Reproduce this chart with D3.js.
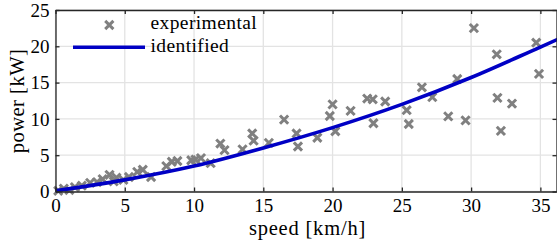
<!DOCTYPE html>
<html><head><meta charset="utf-8">
<script src="https://cdn.jsdelivr.net/npm/d3@7"></script>
<style>body{margin:0;background:#fff;overflow:hidden}
svg text{font-family:"Liberation Serif","Times New Roman","DejaVu Serif",serif}</style></head>
<body>
<svg id="c" width="557" height="249"></svg>
<script>
const expSpeed = [0.2,0.6,1.0,1.4,1.9,2.5,3.0,3.4,3.9,4.2,4.4,4.9,5.3,5.9,6.3,6.9,8.0,8.4,8.8,9.8,10.1,10.5,11.2,11.9,12.2,13.5,14.2,14.3,15.4,16.5,17.4,17.5,18.9,19.8,20.0,20.2,21.3,22.5,22.9,22.95,23.8,25.35,25.5,26.45,27.2,28.35,29.0,29.6,30.2,31.85,31.9,32.15,32.95,34.7,34.9];
const expPower = [0.1,0.4,0.2,0.6,0.8,1.2,1.3,1.7,2.3,1.4,1.9,1.6,2.0,2.7,3.0,2.0,3.5,4.1,4.2,4.3,4.4,4.6,3.9,6.6,5.7,5.8,8.0,7.0,6.7,9.9,8.0,6.2,7.4,10.4,12.0,8.3,11.1,12.8,12.7,9.4,12.4,11.2,9.3,14.35,13.0,10.35,15.5,9.8,22.5,18.9,12.9,8.35,12.1,20.5,16.2];
const idSpeed = [0,5,10,15,20,25,30,35,36.3];
const idPower = [0.1,1.6,3.5,6.0,8.8,12.0,15.7,19.9,21.0];
const xTicks = [0,5,10,15,20,25,30,35];
const yTicks = [0,5,10,15,20,25];
const xLabel = "speed [km/h]";
const yLabel = "power [kW]";
const legendLabels = ["experimental","identified"];

const svg = d3.select("#c");
const L = 55.5, R = 557, T = 10, B = 191.5;
const x = d3.scaleLinear().domain([0,36.2]).range([L,R]);
const y = d3.scaleLinear().domain([0,25]).range([B,T]);
const grey = "#808080", blue = "#0000c4";

// grid
svg.append("g").selectAll("line").data(xTicks).join("line")
  .attr("x1", d=>x(d)).attr("x2", d=>x(d)).attr("y1", T).attr("y2", B)
  .attr("stroke", "#e3e3e3").attr("stroke-width", 1.3);
svg.append("g").selectAll("line").data(yTicks).join("line")
  .attr("y1", d=>y(d)).attr("y2", d=>y(d)).attr("x1", L).attr("x2", R)
  .attr("stroke", "#e3e3e3").attr("stroke-width", 1.3);

// markers
const h = 4.1, mw = 3;
const cross = (cx,cy)=>`M${cx-h},${cy-h}L${cx+h},${cy+h}M${cx-h},${cy+h}L${cx+h},${cy-h}`;
const pts = expSpeed.map((s,i)=>[s, expPower[i]]);
svg.append("g").selectAll("path").data(pts).join("path")
  .attr("d", d=>cross(x(d[0]), y(d[1])))
  .attr("stroke", grey).attr("stroke-width", mw).attr("fill","none");

// identified line
const line = d3.line().x(d=>x(d[0])).y(d=>y(d[1])).curve(d3.curveMonotoneX);
svg.append("path").datum(idSpeed.map((s,i)=>[s, idPower[i]]))
  .attr("d", line).attr("fill","none").attr("stroke", blue).attr("stroke-width", 3.6);

// axes
const ax = "#262626";
const xa = svg.append("g").attr("transform", `translate(0,${B})`)
  .call(d3.axisBottom(x).tickValues(xTicks).tickSizeInner(-4).tickSizeOuter(0).tickPadding(7));
const ya = svg.append("g").attr("transform", `translate(${L},0)`)
  .call(d3.axisLeft(y).tickValues(yTicks).tickSizeInner(-4).tickSizeOuter(0).tickPadding(6));
const xt = svg.append("g").attr("transform", `translate(0,${T})`)
  .call(d3.axisTop(x).tickValues(xTicks).tickSizeInner(-4).tickSizeOuter(0).tickFormat(""));
const yr = svg.append("g").attr("transform", `translate(${R-0.5},0)`)
  .call(d3.axisRight(y).tickValues(yTicks).tickSizeInner(-4).tickSizeOuter(0).tickFormat(""));
[xa,ya,xt,yr].forEach(g=>{
  g.attr("font-family", null);
  g.selectAll("path.domain").attr("stroke", ax).attr("stroke-width",1.3);
  g.selectAll(".tick line").attr("stroke", ax).attr("stroke-width",1.3);
  g.selectAll("text").attr("font-size", 19).attr("fill","#000");
});
xa.selectAll("text").attr("dy", "0.72em");
ya.selectAll("text").attr("dy", "0.33em");

// axis labels
svg.append("text").attr("x", 307.5).attr("y", 235).attr("text-anchor","middle")
  .attr("font-size", 20.5).attr("letter-spacing", 0.8).text(xLabel);
svg.append("text").attr("transform", "translate(24,101) rotate(-90)").attr("text-anchor","middle")
  .attr("font-size", 20.5).attr("letter-spacing", 0.5).text(yLabel);

// legend
const lg = svg.append("g");
lg.append("path").attr("d", cross(109.3, 25))
  .attr("stroke", grey).attr("stroke-width", mw).attr("fill","none");
lg.append("line").attr("x1",73).attr("x2",145).attr("y1",47.3).attr("y2",47.3)
  .attr("stroke", blue).attr("stroke-width", 3.6);
lg.selectAll("text").data(legendLabels).join("text")
  .attr("x", 150.5).attr("y", (d,i)=>29+i*23)
  .attr("font-size", 19.5).attr("letter-spacing", 0.4).text(d=>d);
</script>
</body></html>
